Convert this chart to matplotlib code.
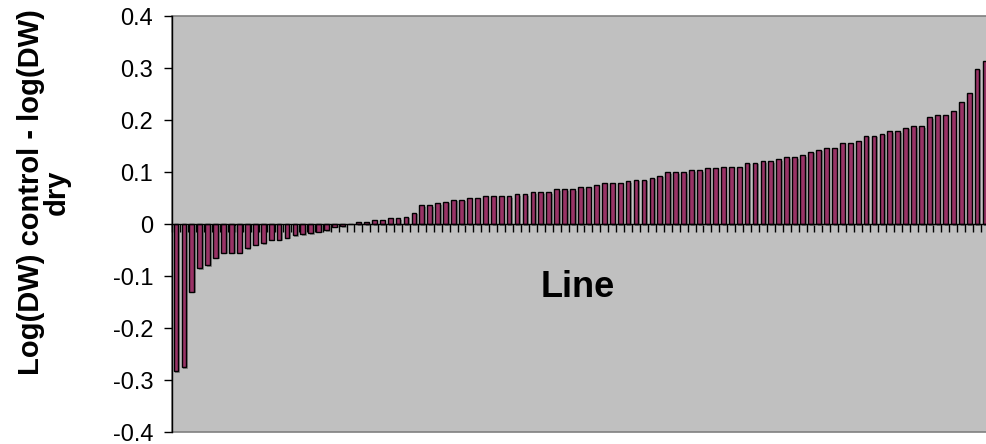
import matplotlib
matplotlib.use('Agg')
import matplotlib.pyplot as plt
import matplotlib.patheffects as pe
import numpy as np

plt.rcParams['font.family'] = ['Liberation Sans', 'DejaVu Sans']

# log(DW) control - log(DW) dry, one bar per line, sorted
values = [
    -0.283, -0.275, -0.130, -0.085, -0.079, -0.065, -0.055, -0.055, -0.055, -0.047,
    -0.040, -0.037, -0.030, -0.030, -0.026, -0.022, -0.019, -0.018, -0.015, -0.012,
    -0.005, -0.004, 0.000, 0.004, 0.004, 0.007, 0.007, 0.011, 0.011, 0.014,
    0.022, 0.036, 0.036, 0.040, 0.043, 0.047, 0.047, 0.050, 0.050, 0.054,
    0.054, 0.054, 0.054, 0.057, 0.057, 0.061, 0.061, 0.061, 0.067, 0.067,
    0.067, 0.071, 0.071, 0.075, 0.078, 0.078, 0.078, 0.082, 0.085, 0.085,
    0.089, 0.093, 0.100, 0.100, 0.100, 0.103, 0.103, 0.107, 0.107, 0.110,
    0.110, 0.110, 0.118, 0.118, 0.121, 0.121, 0.125, 0.128, 0.128, 0.132,
    0.139, 0.143, 0.146, 0.146, 0.156, 0.156, 0.160, 0.170, 0.170, 0.174,
    0.178, 0.178, 0.185, 0.188, 0.188, 0.206, 0.210, 0.210, 0.217, 0.235,
    0.252, 0.299, 0.313,
]
ytick_vals = [0.4, 0.3, 0.2, 0.1, 0.0, -0.1, -0.2, -0.3, -0.4]
ytick_labels = ['0.4', '0.3', '0.2', '0.1', '0', '-0.1', '-0.2', '-0.3', '-0.4']

W, H = 987, 444
fig = plt.figure(figsize=(W / 100, H / 100), dpi=100)
ax = fig.add_axes([172 / W, 12 / H, 817 / W, 416 / H])
ax.set_facecolor('#c0c0c0')
ax.patch.set_edgecolor('#808080')
ax.patch.set_linewidth(1.2)

x = np.arange(len(values))
bars = ax.bar(x, values, width=0.6, color='#993366', edgecolor='black',
              linewidth=1.0, zorder=3)
for b in bars:
    b.set_path_effects([pe.SimplePatchShadow(offset=(1.2, -1.2), shadow_rgbFace='#707070', alpha=0.7),
                        pe.Normal()])

ax.set_xlim(-0.5, len(values) - 0.5)
ax.set_ylim(-0.4, 0.4)

# category axis crossing at zero
for s in ['top', 'right']:
    ax.spines[s].set_visible(False)
ax.spines['bottom'].set_position(('data', 0))
ax.spines['bottom'].set_color('black')
ax.spines['bottom'].set_linewidth(1.0)
ax.spines['bottom'].set_zorder(4)
ax.spines['left'].set_color('black')
ax.spines['left'].set_linewidth(1.0)

ax.set_xticks(np.arange(len(values) + 1) - 0.5)
ax.set_xticklabels([])
ax.tick_params(axis='x', direction='out', length=5.5, width=1.0, color='black')

ax.set_yticks(ytick_vals)
ax.set_yticklabels(ytick_labels)
ax.tick_params(axis='y', direction='out', length=5.5, width=1.0, color='black',
               labelsize=17, pad=8)

ax.text(0.4966, 0.324, 'Line', transform=ax.transAxes, ha='center', va='baseline',
        fontsize=26, fontweight='bold')

fig.text(44 / W, 1 - 192 / H, 'Log(DW) control - log(DW)\ndry', rotation=90,
         ha='center', va='center', multialignment='center',
         fontsize=21, fontweight='bold', linespacing=0.9)

fig.savefig('out.png', dpi=100)
